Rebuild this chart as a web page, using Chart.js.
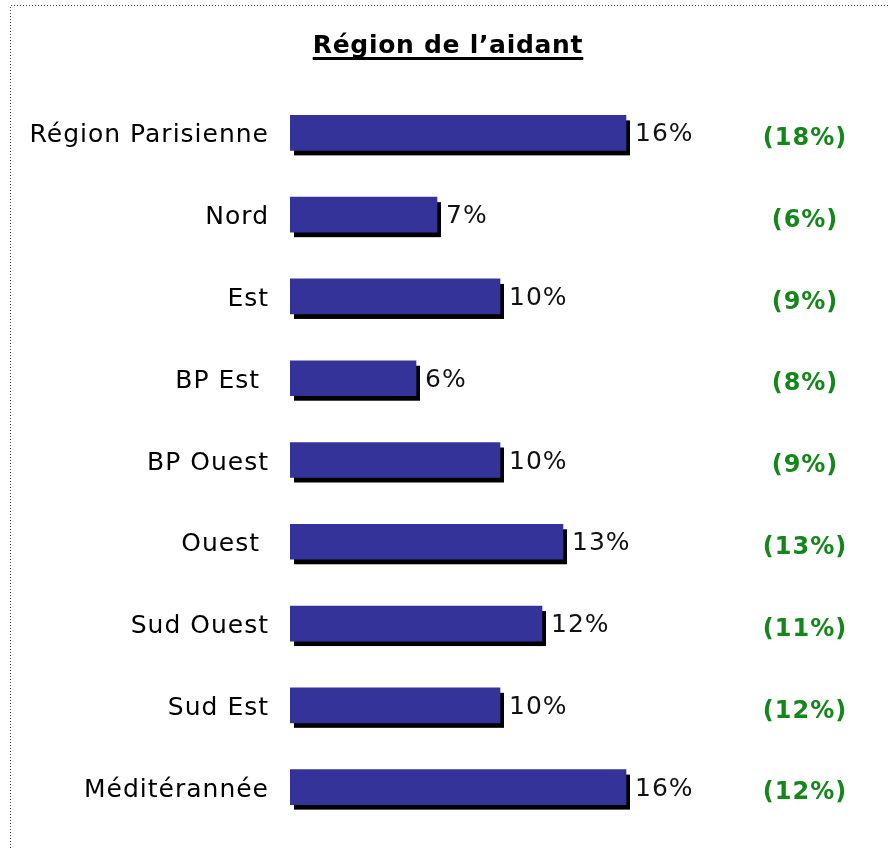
<!DOCTYPE html>
<html>
<head>
<meta charset="utf-8">
<script src="https://cdn.jsdelivr.net/npm/chart.js@4.4.1/dist/chart.umd.min.js"></script>
<style>
  body { margin: 0; background: #fff; }
  #chart { position: absolute; left: 0; top: 0; }
</style>
</head>
<body>
<canvas id="chart" width="888" height="848"></canvas>
<script>
// data
const regions = ["Région Parisienne", "Nord", "Est", "BP Est ", "BP Ouest", "Ouest ", "Sud Ouest", "Sud Est", "Méditérannée"];
const shares = [16, 7, 10, 6, 10, 13, 12, 10, 16];
const reference = [18, 6, 9, 8, 9, 13, 11, 12, 12];
const chartTitle = "Région de l\u2019aidant";

const FONT = "'DejaVu Sans', Verdana, sans-serif";

// dotted frame on top and left
const framePlugin = {
	id: "frame",
	beforeDraw(chart) {
		const ctx = chart.ctx;
		ctx.save();
		ctx.strokeStyle = "#444";
		ctx.lineWidth = 1;
		ctx.setLineDash([1, 2]);
		ctx.beginPath();
		ctx.moveTo(10.5, 848);
		ctx.lineTo(10.5, 5.5);
		ctx.lineTo(888, 5.5);
		ctx.stroke();
		ctx.restore();

		// title, bold + underlined
		ctx.save();
		ctx.font = "bold 25px " + FONT;
		ctx.letterSpacing = "0.7px";
		ctx.fillStyle = "#000";
		ctx.textAlign = "center";
		ctx.textBaseline = "alphabetic";
		ctx.fillText(chartTitle, 448, 53);
		const w = ctx.measureText(chartTitle).width;
		ctx.fillRect(448 - w / 2, 57, w, 3);
		ctx.restore();

		// wider letter spacing for the tick labels drawn next
		ctx.letterSpacing = "1px";
	}
};

// black drop shadow under each bar
const shadowPlugin = {
	id: "shadow",
	beforeDatasetsDraw(chart) {
		const ctx = chart.ctx;
		const meta = chart.getDatasetMeta(0);
		ctx.save();
		ctx.fillStyle = "#000";
		meta.data.forEach(bar => {
			ctx.fillRect(bar.base + 4, bar.y - bar.height / 2 + 5, bar.x - bar.base, bar.height);
		});
		ctx.restore();
	}
};

// value labels + green reference values
const labelPlugin = {
	id: "labels",
	afterDatasetsDraw(chart) {
		const ctx = chart.ctx;
		const meta = chart.getDatasetMeta(0);
		const area = chart.chartArea;
		ctx.save();
		ctx.letterSpacing = "1px";
		ctx.textBaseline = "middle";
		meta.data.forEach((bar, i) => {
			ctx.font = "25px " + FONT;
			ctx.fillStyle = "#111";
			ctx.textAlign = "left";
			ctx.fillText(shares[i] + "%", bar.x + 9, bar.y + 2);

			ctx.font = "bold 24px " + FONT;
			ctx.fillStyle = "#15871a";
			ctx.textAlign = "center";
			ctx.fillText("(" + reference[i] + "%)", area.right + 95, bar.y + 6);
		});
		ctx.restore();
	}
};

new Chart(document.getElementById("chart"), {
	type: "bar",
	data: {
		labels: regions,
		datasets: [{
			data: shares,
			backgroundColor: "#333399",
			borderWidth: 0,
			barThickness: 35
		}]
	},
	options: {
		indexAxis: "y",
		responsive: false,
		animation: false,
		layout: { padding: { top: 92, bottom: 20, right: 178, left: 0 } },
		plugins: {
			legend: { display: false },
			tooltip: { enabled: false },
			title: { display: false }
		},
		scales: {
			x: { display: false, min: 0, max: 20 },
			y: {
				grid: { display: false, drawTicks: false },
				border: { display: false },
				ticks: {
					color: "#000",
					padding: 21,
					labelOffset: 3,
					font: { family: FONT, size: 25 }
				},
				afterFit(scale) {
					scale.width = 290;
					scale.paddingTop = 0;
					scale.paddingBottom = 0;
				}
			}
		}
	},
	plugins: [framePlugin, shadowPlugin, labelPlugin]
});
</script>
</body>
</html>
